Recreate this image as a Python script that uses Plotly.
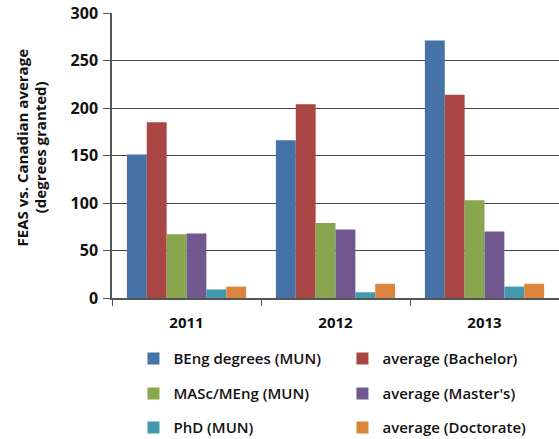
import plotly.graph_objects as go

years = ["2011", "2012", "2013"]

series_names = [
    "BEng degrees (MUN)",
    "average (Bachelor)",
    "MASc/MEng (MUN)",
    "average (Master's)",
    "PhD (MUN)",
    "average (Doctorate)",
]
beng_mun = [151, 166, 271]
avg_bachelor = [185, 204, 214]
masc_meng_mun = [67, 79, 103]
avg_masters = [68, 72, 70]
phd_mun = [9, 6, 12]
avg_doctorate = [12, 15, 15]

series_values = [beng_mun, avg_bachelor, masc_meng_mun, avg_masters, phd_mun, avg_doctorate]
colors = ["#4572A7", "#AA4643", "#89A54E", "#71588F", "#4198AF", "#DB843D"]
legend_ids = ["legend", "legend", "legend2", "legend2", "legend3", "legend3"]

FONT = "Open Sans"

fig = go.Figure()
for name, vals, col, lg in zip(series_names, series_values, colors, legend_ids):
    fig.add_trace(
        go.Bar(
            x=years,
            y=vals,
            name=name,
            marker=dict(color=col, line=dict(width=0)),
            legend=lg,
        )
    )

legend_base = dict(
    orientation="h",
    xanchor="left",
    yanchor="middle",
    x=0.048,
    entrywidth=164,
    entrywidthmode="pixels",
    font=dict(family=FONT, size=15, color="#111", weight=600),
    itemwidth=30,
    bgcolor="rgba(0,0,0,0)",
    traceorder="normal",
)

fig.update_layout(
    width=559,
    height=439,
    margin=dict(l=112, r=0, t=13, b=141, autoexpand=False),
    plot_bgcolor="white",
    paper_bgcolor="white",
    barmode="group",
    bargap=0.2,
    bargroupgap=0,
    font=dict(family=FONT, size=15, color="#111"),
    legend=dict(legend_base, y=-0.213),
    legend2=dict(legend_base, y=-0.336),
    legend3=dict(legend_base, y=-0.455),
    xaxis=dict(
        showline=True,
        linecolor="#555",
        linewidth=1.5,
        tickson="boundaries",
        ticks="outside",
        ticklen=6,
        tickcolor="#555",
        ticklabelstandoff=10,
        tickfont=dict(family=FONT, size=15, color="#111", weight="bold"),
        showgrid=False,
    ),
    yaxis=dict(
        range=[0, 300],
        dtick=50,
        showline=True,
        linecolor="#555",
        linewidth=1.5,
        ticks="outside",
        ticklen=7,
        tickcolor="#555",
        ticklabelstandoff=2,
        showgrid=True,
        gridcolor="#444",
        gridwidth=1.2,
        zeroline=False,
        tickfont=dict(family=FONT, size=16, color="#111", weight="bold"),
    ),
    annotations=[
        dict(
            text="<b>FEAS vs. Canadian average</b>",
            textangle=-90,
            xref="paper", yref="paper",
            x=-0.201, y=0.529,
            xanchor="center", yanchor="middle",
            showarrow=False,
            font=dict(family=FONT, size=15, color="#111"),
        ),
        dict(
            text="<b>(degrees granted)</b>",
            textangle=-90,
            xref="paper", yref="paper",
            x=-0.161, y=0.529,
            xanchor="center", yanchor="middle",
            showarrow=False,
            font=dict(family=FONT, size=15, color="#111"),
        ),
    ],
)

# the page adds an 8px body margin; drop it so the figure sits at the corner
fig.write_html(
    "out.html",
    config={"displayModeBar": False},
    post_script="document.body.style.margin = '0';",
)
